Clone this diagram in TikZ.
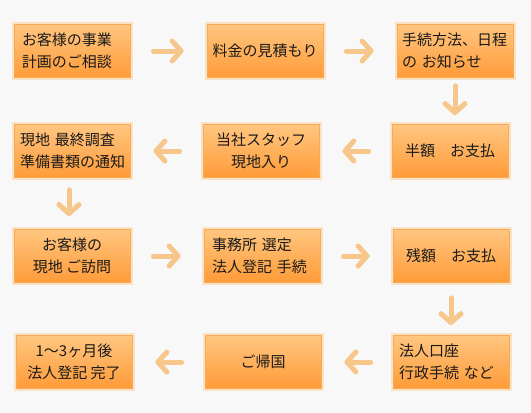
\documentclass[tikz,border=0pt]{standalone}
\usepackage{fontspec}
\setmainfont{Noto Sans CJK JP}
\usetikzlibrary{arrows.meta}
\definecolor{bg}{HTML}{F8F8F8}
\definecolor{boxtop}{HTML}{FFC680}
\definecolor{boxbot}{HTML}{FF9B38}
\definecolor{boxedge}{HTML}{F5AA58}
\definecolor{glow}{HTML}{FCE2C4}
\definecolor{txt}{HTML}{1A1A1A}
\definecolor{arrowc}{HTML}{F6C68A}
\begin{document}
\begin{tikzpicture}[x=1pt,y=-1pt,
  box/.style={minimum width=116pt, minimum height=53pt, inner sep=0pt,
    top color=boxtop, bottom color=boxbot, draw=boxedge, line width=0.8pt,
    preaction={draw=glow, line width=5pt},
    font=\fontsize{15}{22}\selectfont, text=txt, align=center},
  boxl/.style={box, text width=100pt, align=left},
  flow/.style={draw=arrowc, line width=5pt, line cap=round,
    -{Straight Barb[length=9pt,width=20pt,round]}}
]
\fill[bg] (0,0) rectangle (531,413);
\useasboundingbox (0,0) rectangle (531,413);

% row 1
\node[boxl] (n1) at (72,51) {お客様の事業\\計画のご相談};
\node[box]  (n2) at (265,51) {料金の見積もり};
\node[boxl, text width=106pt] (n3) at (455,51) {手続方法、日程\\の お知らせ};
% row 2
\node[boxl, text width=104pt] (n4) at (72,151) {現地 最終調査\\準備書類の通知};
\node[box]  (n5) at (261,151) {当社スタッフ\\現地入り};
\node[box]  (n6) at (450,151) {半額　お支払};
% row 3
\node[box]  (n7) at (72,256) {お客様の\\現地 ご訪問};
\node[boxl] (n8) at (262,256) {事務所 選定\\法人登記 手続};
\node[box]  (n9) at (451,256) {残額　お支払};
% row 4
\node[box]  (n10) at (74,362) {1〜3ヶ月後\\法人登記 完了};
\node[box]  (n11) at (263,362) {ご帰国};
\node[boxl, text width=104pt] (n12) at (451,362) {法人口座\\行政手続 など};

% arrows
\draw[flow, shorten <=23pt, shorten >=23pt] (n1.east) -- (n2.west);
\draw[flow, shorten <=23pt, shorten >=23pt] (n2.east) -- (n3.west);
\draw[flow, shorten <=8pt, shorten >=9pt] (n3.south) -- (n3.south |- n6.north);
\draw[flow, shorten <=23pt, shorten >=23pt] (n6.west) -- (n5.east);
\draw[flow, shorten <=23pt, shorten >=23pt] (n5.west) -- (n4.east);
\draw[flow, shorten <=12pt, shorten >=13pt] ([xshift=-3pt]n4.south) -- ([xshift=-3pt]n4.south |- n7.north);
\draw[flow, shorten <=23pt, shorten >=23pt] (n7.east) -- (n8.west);
\draw[flow, shorten <=23pt, shorten >=23pt] (n8.east) -- (n9.west);
\draw[flow, shorten <=15pt, shorten >=10pt] (n9.south) -- (n9.south |- n12.north);
\draw[flow, shorten <=22pt, shorten >=23pt] (n12.west) -- (n11.east);
\draw[flow, shorten <=23pt, shorten >=23pt] (n11.west) -- (n10.east);
\end{tikzpicture}
\end{document}
